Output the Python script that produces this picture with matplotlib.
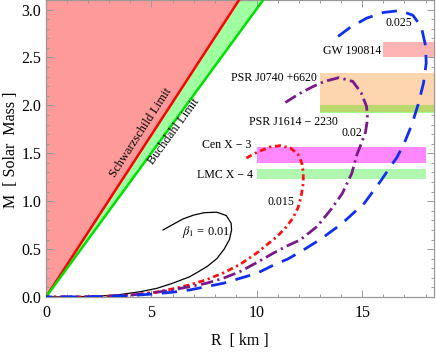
import numpy as np
import matplotlib
matplotlib.use("Agg")
import matplotlib.pyplot as plt

plt.rcParams['font.family'] = ['Liberation Serif', 'DejaVu Serif']
plt.rcParams['mathtext.fontset'] = 'stix'

# ---------------- data ----------------
G_KM = 1.4766  # GM_sun/c^2 in km
R_MAX, M_MAX = 18.4, 3.1

# beta1 = 0.01 (black solid)
r_001 = [5.55, 6.0, 6.5, 7.0, 7.5, 8.1, 8.55, 8.78, 8.8, 8.7, 8.45, 8.1, 7.65, 7.2, 6.8, 6.0, 5.25, 4.46, 3.5, 2.5, 1.5, 0.0]
m_001 = [0.70, 0.755, 0.815, 0.855, 0.88, 0.885, 0.85, 0.77, 0.70, 0.60, 0.50, 0.40, 0.32, 0.26, 0.21, 0.143, 0.09, 0.055, 0.025, 0.009, 0.002, 0.0]

# beta1 = 0.015 (red)
r_0015 = [9.5, 10.0, 10.6, 11.1, 11.6, 11.95, 12.13, 12.2, 12.2, 12.1, 11.95, 11.7, 11.35, 10.95, 10.5, 10.0, 9.2, 8.4, 7.6, 6.8, 6.0, 5.2, 4.4, 3.5, 2.5, 1.5, 0.0]
m_0015 = [1.45, 1.51, 1.565, 1.58, 1.555, 1.49, 1.40, 1.30, 1.19, 1.05, 0.93, 0.82, 0.72, 0.63, 0.55, 0.46, 0.34, 0.25, 0.18, 0.125, 0.085, 0.05, 0.028, 0.012, 0.004, 0.001, 0.0]

# beta1 = 0.02 (purple)
r_002 = [11.35, 12.0, 12.6, 13.2, 13.9, 14.55, 14.95, 15.2, 15.25, 15.15, 14.95, 14.75, 14.5, 14.05, 13.5, 12.85, 12.05, 11.4, 10.8, 10.0, 9.2, 8.4, 7.6, 6.8, 6.0, 5.0, 4.0, 3.0, 2.0, 0.0]
m_002 = [2.03, 2.12, 2.19, 2.25, 2.29, 2.25, 2.13, 1.99, 1.86, 1.72, 1.60, 1.49, 1.29, 1.08, 0.91, 0.735, 0.595, 0.53, 0.46, 0.36, 0.265, 0.195, 0.143, 0.108, 0.073, 0.042, 0.02, 0.008, 0.002, 0.0]

# beta1 = 0.025 (blue)
r_0025 = [13.85, 14.4, 15.2, 16.0, 16.8, 17.4, 17.8, 18.0, 18.03, 17.9, 17.65, 17.35, 17.0, 16.65, 16.3, 15.9, 15.5, 15.1, 14.6, 14.0, 13.0, 12.2, 11.5, 10.8, 10.0, 9.2, 8.4, 7.6, 6.8, 6.0, 5.0, 4.0, 3.0, 2.0, 0.0]
m_0025 = [2.72, 2.81, 2.91, 2.97, 2.99, 2.94, 2.82, 2.62, 2.44, 2.23, 2.01, 1.80, 1.61, 1.46, 1.35, 1.22, 1.10, 0.98, 0.88, 0.76, 0.60, 0.49, 0.40, 0.334, 0.247, 0.195, 0.143, 0.108, 0.073, 0.05, 0.03, 0.015, 0.006, 0.002, 0.0]

# observational bands: name, R range, M range
band_names = ["GW 190814", "PSR J0740 +6620", "PSR J1614 − 2230", "Cen X − 3", "LMC X − 4"]
band_r0 = [16.0, 13.0, 13.0, 10.0, 10.0]
band_r1 = [18.6, 18.6, 18.6, 18.0, 18.0]
band_m0 = [2.505, 1.955, 1.93, 1.40, 1.232]
band_m1 = [2.665, 2.336, 2.005, 1.566, 1.34]

# ---------------- figure ----------------
fig = plt.figure(figsize=(4.36, 3.54), dpi=100)
ax = fig.add_axes([46/436, 57/354, 388/436, 297/354])
ax.set_xlim(0, R_MAX)
ax.set_ylim(0, M_MAX)

# forbidden regions
rr = np.linspace(0, R_MAX, 200)
m_schw = rr / (2 * G_KM)
m_buch = 4 * rr / (9 * G_KM)
ax.fill_between(rr, m_schw, M_MAX + 1, color='#ff9a9a', lw=0, zorder=1)
ax.fill_between(rr, m_buch, m_schw, color='#a0ffa0', lw=0, zorder=1)
ax.plot(rr, m_schw, color='#ff0000', lw=1.8, zorder=3)
ax.plot(rr, m_buch, color='#00e000', lw=1.8, zorder=3)

# bands
band_cols = ['#ffb4b4', '#fdd5ae', '#bcd86c', '#ff88ff', '#b0f8b0']
for i in range(len(band_names)):
    ax.fill_between([band_r0[i], band_r1[i]], band_m0[i], band_m1[i],
                    color=band_cols[i], lw=0, zorder=2)
# thin green edge of J1614 band below overlap
ax.fill_between([band_r0[2], band_r1[2]], band_m0[2] - 0.012, band_m0[2],
                color='#a0ff90', lw=0, zorder=2)

# curves
ax.plot(r_001, m_001, color='black', lw=0.9, zorder=4)
ax.plot(r_0015, m_0015, color='#ff1010', lw=2.0, ls=(0, (2.2, 1.3, 0.8, 1.3)), zorder=4)
ax.plot(r_002, m_002, color='#7a1a8a', lw=2.0, ls=(0, (4.5, 1.6, 0.8, 1.6)), zorder=4)
ax.plot(r_0025, m_0025, color='#1030f0', lw=2.0, ls=(0, (5.5, 3.5)), zorder=4)

# annotations
fs = 8.6
ax.text(15.9, 2.57, band_names[0], ha='right', va='center', fontsize=fs, zorder=5)
ax.text(12.86, 2.29, band_names[1], ha='right', va='center', fontsize=fs, zorder=5)
ax.text(13.86, 1.83, band_names[2], ha='right', va='center', fontsize=fs, zorder=5)
ax.text(9.73, 1.585, band_names[3], ha='right', va='center', fontsize=fs, zorder=5)
ax.text(9.83, 1.27, band_names[4], ha='right', va='center', fontsize=fs, zorder=5)

fn = 8.6
ax.text(16.75, 2.86, "0.025", ha='center', va='center', fontsize=fn, zorder=5)
ax.text(14.5, 1.71, "0.02", ha='center', va='center', fontsize=fn, zorder=5)
ax.text(11.13, 0.99, "0.015", ha='center', va='center', fontsize=fn, zorder=5)
ax.text(7.6, 0.68, r"$\beta_1$ = 0.01", ha='center', va='center', fontsize=9, zorder=5)

# limit labels, rotated along the lines
fig.canvas.draw()
def disp_angle(slope):
    p0 = ax.transData.transform((0, 0))
    p1 = ax.transData.transform((1, slope))
    return np.degrees(np.arctan2(p1[1] - p0[1], p1[0] - p0[0]))
ax.text(4.51, 1.71, "Schwarzschild Limit", rotation=disp_angle(1/(2*G_KM)),
        ha='center', va='center', fontsize=9, rotation_mode='anchor', zorder=5)
ax.text(6.07, 1.73, "Buchdahl Limit", rotation=disp_angle(4/(9*G_KM)),
        ha='center', va='center', fontsize=9, rotation_mode='anchor', zorder=5)

# axes styling (Mathematica-like frame)
frame_col = '#999999'
for s in ax.spines.values():
    s.set_color(frame_col)
    s.set_linewidth(0.9)
ax.set_xticks([0, 5, 10, 15])
ax.set_xticks(np.arange(0, 18.5, 1), minor=True)
ax.set_yticks([0.0, 0.5, 1.0, 1.5, 2.0, 2.5, 3.0])
ax.set_yticklabels(["0.0", "0.5", "1.0", "1.5", "2.0", "2.5", "3.0"])
ax.set_yticks(np.arange(0, 3.11, 0.1), minor=True)
ax.tick_params(which='both', direction='in', top=True, right=True, color=frame_col,
               labelsize=11.5, width=0.7)
ax.tick_params(which='major', length=5)
ax.tick_params(which='minor', length=2.5)
ax.tick_params(axis='x', pad=6)

ax.text(0.5, -0.148, "R  [ km ]", transform=ax.transAxes, ha='center', va='center', fontsize=11.5)
ax.text(-0.09, 0.495, "M  [ Solar  Mass ]", transform=ax.transAxes, ha='center', va='center',
        rotation=90, fontsize=11.5)

fig.savefig("out.png", dpi=100)
